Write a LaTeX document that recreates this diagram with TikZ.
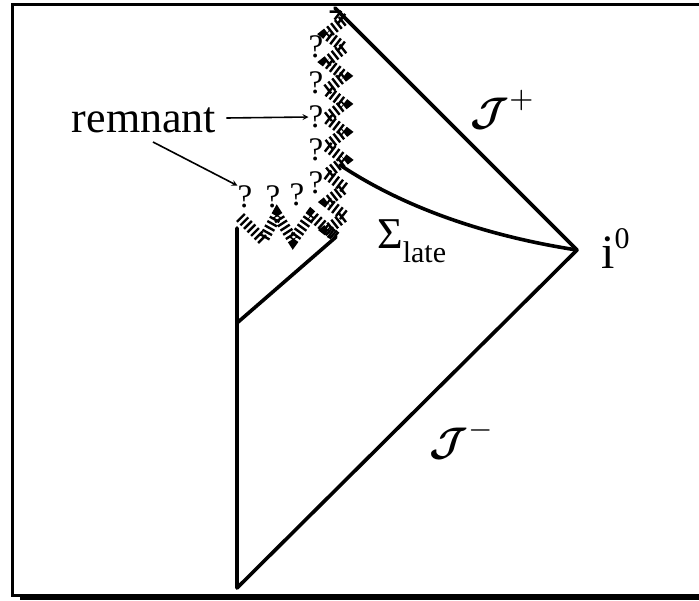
\documentclass[tikz,border=0pt]{standalone}
\usepackage{amsmath}
\usepackage{fontspec}
\setmainfont{Liberation Serif}
\usetikzlibrary{arrows, decorations.pathmorphing}
\tikzstyle{edge} = [line width=3.6pt, line cap=round, line join=round]
\tikzstyle{sing} = [line width=11pt, dash pattern=on 2.4pt off 2.6pt]
\tikzstyle{arrow} = [line width=1.6pt, ->, >=stealth]
\tikzstyle{txt} = [font=\fontsize{44}{50}\selectfont, inner sep=0pt]
\tikzstyle{qmark} = [font=\fontsize{33}{36}\selectfont, inner sep=0pt]
\tikzstyle{scri} = [font=\fontsize{10}{12}\selectfont, inner sep=0pt]

\begin{document}
\begin{tikzpicture}[x=1pt, y=-1pt]
\useasboundingbox (0,0) rectangle (699,600);
% frame with shadow
\draw[line width=3pt] (710,4) -- (12,4) -- (12,595) -- (710,595);
\fill (20,595) rectangle (710,600);

\coordinate (top) at (335,8);
\coordinate (bot) at (237,588);
\coordinate (i0) at (577,250);
\coordinate (rl) at (237,228);
\coordinate (kink) at (237,323);
\coordinate (rr) at (336,237);
\coordinate (sig) at (340,165);

% diagram boundary
\draw[edge] (rl) -- (bot) -- (i0) -- (top);
\draw[edge] (kink) -- (rr);
\draw[edge] (sig) .. controls (400,205) and (480,235) .. (i0);

% singularity
\draw[sing] (240,217) -- (263,240) -- (277,215) -- (293,240) -- (311,215) -- (rr);
\draw[sing, decorate, decoration={zigzag, segment length=28pt, amplitude=9pt}] (rr) -- (top);

\foreach \y [count=\i] in {47,83,117,150,183}
  \node[qmark] (q\i) at (316,\y) {?};
\node[qmark] (p1) at (245,197) {?};
\node[qmark] (p2) at (273,197) {?};
\node[qmark] (p3) at (297,195) {?};

% labels
\node[txt, anchor=base] (rem) at (144,132) {remnant};
\draw[arrow] ([shift={(10,-14)}]rem.base east) -- (q3.west);
\draw[arrow] ([shift={(9,10)}]rem.base) -- (p1.north west);

\node[txt, anchor=base west] (sigma) at (377,248) {Σ\raisebox{-14pt}{\fontsize{30}{30}\selectfont late}};
\node[txt, anchor=base west] (inf) at (601,268) {\fontsize{48}{50}\selectfont i\raisebox{20pt}{\fontsize{30}{30}\selectfont 0}};
\node[scri] (scrip) at (503,110) {\scalebox{4}{$\boldsymbol{\mathcal{J}}^{+}$}};
\node[scri] (scrim) at (462,440) {\scalebox{4}{$\boldsymbol{\mathcal{J}}^{-}$}};
\end{tikzpicture}
\end{document}
